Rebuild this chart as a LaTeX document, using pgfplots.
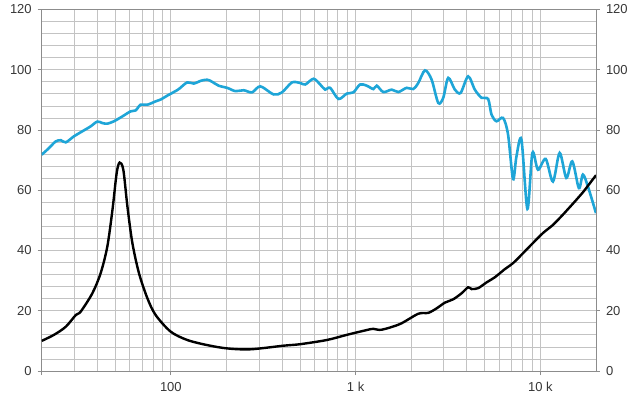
\documentclass[border=0pt]{standalone}
\usepackage{fontspec}
\setmainfont{Liberation Sans}
\usepackage{pgfplots}
\pgfplotsset{compat=1.18}
\definecolor{spl}{RGB}{30,165,215}
\definecolor{gridc}{RGB}{195,195,195}
\definecolor{axc}{RGB}{140,140,140}
\definecolor{txt}{RGB}{55,55,55}
\begin{document}
\begin{tikzpicture}
\begin{axis}[
  scale only axis, width=554.3pt, height=361.5pt,
  xmode=log, xmin=20, xmax=20000, ymin=0, ymax=120,
  ytick={0,20,40,60,80,100,120},
  tick align=outside, major tick length=4pt, minor tick length=0pt,
  tick style={axc, line width=0.8pt},
  axis line style={axc, line width=0.8pt},
  tick label style={font=\fontsize{13}{13}\selectfont, text=txt},
  /pgf/number format/assume math mode=true,
  xtick={20,100,1000,10000}, xticklabels={,100,1 k,10 k},
  minor xtick={30,40,50,60,70,80,90,200,300,400,500,600,700,800,900,2000,3000,4000,5000,6000,7000,8000,9000},
  minor ytick={4,8,12,16,24,28,32,36,44,48,52,56,64,68,72,76,84,88,92,96,104,108,112,116},
  grid=both,
  major grid style={gridc, line width=0.8pt},
  minor grid style={gridc, line width=0.8pt},
  xtick pos=left, ytick pos=left,
  xticklabel style={yshift=-3.5pt},
  yticklabel style={xshift=-2.5pt},
]
\addplot[spl, line width=2.6pt, smooth, tension=0.5] coordinates {
(20,71.8) (21.9,74.0) (23.8,76.2) (25.4,76.6) (27.0,75.9) (29.9,77.9) (33.9,79.9) (36.8,81.2) (40.0,82.8) (42.6,82.3) (45.3,82.1) (49.2,82.9) (54.6,84.5) (60.6,86.2) (64.5,86.5) (68.6,88.4) (74.6,88.4) (82.7,89.5) (88.0,90.1) (95.6,91.4) (103.8,92.6) (110.5,93.6) (122.6,95.8) (133.1,95.4) (144.7,96.3) (157.2,96.7) (167.3,96.0) (181.6,94.7) (201.6,94.0) (223.6,92.9) (247.9,93.2) (275.1,92.5) (305.1,94.5) (359.8,91.8) (399.5,92.5) (452.4,95.8) (501.5,95.6) (533.7,95.1) (591.7,97.0) (643.3,95.1) (684.5,93.4) (728.3,94.0) (807.4,90.3) (896.5,92.1) (973,92.5) (1057,95.1) (1149,94.7) (1248,93.6) (1302,94.7) (1413,92.6) (1568,93.4) (1702,92.6) (1890,94.0) (2052,93.6) (2183,95.6) (2373,99.8) (2579,96.7) (2800,89.0) (2980,90.7) (3170,97.3) (3445,93.4) (3700,92.3) (4064,97.8) (4418,93.4) (4803,90.7) (5214,90.3) (5440,85.1) (5786,82.9) (6281,84.0) (6683,78.5) (7112,63.7) (7420,71.2) (7897,76.8) (8508,53.8) (9053,72.4) (9705,66.8) (10683,70.4) (11696,62.9) (12715,72.4) (13815,64.1) (14886,69.6) (16160,60.7) (16982,65.2) (18072,61.3) (20000,52.4)
};
\addplot[black, line width=2.4pt, smooth, tension=0.5] coordinates {
(20,10.0) (23.3,12.0) (27.0,14.7) (30.6,18.6) (32.5,19.7) (37.6,25.8) (41.7,32.5) (45.3,41.3) (48.3,53.5) (50.9,65.7) (52.8,69.2) (55.3,66.8) (58.2,54.6) (61.9,42.5) (67.2,32.5) (74.6,24.2) (82.7,18.6) (99.6,13.1) (122.6,10.3) (157.2,8.6) (201.6,7.5) (269,7.2) (407,8.4) (501,8.9) (700,10.3) (896,12.0) (1149,13.6) (1248,14.0) (1382,13.7) (1739,15.6) (2183,19.0) (2472,19.3) (2745,20.8) (3043,22.7) (3375,23.8) (3746,25.8) (4064,27.8) (4241,27.2) (4603,27.5) (5110,29.4) (5666,31.1) (6416,33.8) (7112,35.8) (8054,39.1) (9120,42.5) (10327,45.8) (11696,48.5) (13240,51.9) (15646,56.8) (16982,59.3) (20000,65.0)
};
\end{axis}
\begin{axis}[
  scale only axis, width=554.3pt, height=361.5pt,
  xmode=log, xmin=20, xmax=20000, ymin=0, ymax=120,
  ytick={0,20,40,60,80,100,120},
  tick align=outside, major tick length=4pt, minor tick length=0pt,
  tick style={axc, line width=0.8pt},
  axis line style={axc, line width=0.8pt},
  tick label style={font=\fontsize{13}{13}\selectfont, text=txt},
  /pgf/number format/assume math mode=true,
  axis x line=none, axis y line*=right,
  yticklabel style={xshift=2.5pt},
]
\addplot[draw=none] coordinates {(100,50)};
\end{axis}
\pgfresetboundingbox
\path (-41.7pt,-29pt) rectangle (598.3pt,371pt);
\end{tikzpicture}
\end{document}
